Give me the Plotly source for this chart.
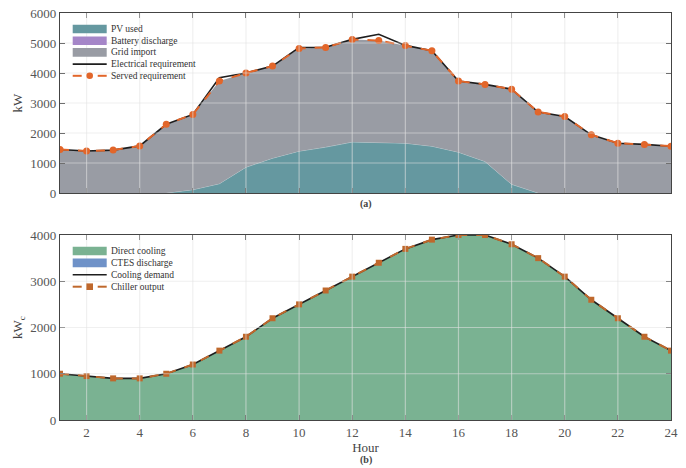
import plotly.graph_objects as go

hours = list(range(1, 25))

# Panel (a): electrical balance, kW
electrical_req = [1450, 1400, 1430, 1570, 2290, 2620, 3840, 4000, 4230, 4850,
                  4860, 5120, 5290, 4920, 4740, 3730, 3620, 3460, 2700, 2550,
                  1940, 1660, 1620, 1560]
served_req = [1450, 1400, 1430, 1570, 2290, 2620, 3730, 4000, 4230, 4820,
              4850, 5120, 5080, 4920, 4740, 3730, 3620, 3460, 2700, 2550,
              1940, 1660, 1620, 1560]
pv_used = [0, 0, 0, 0, 0, 110, 310, 860, 1160, 1395,
           1530, 1700, 1680, 1660, 1560, 1360, 1050, 290, 0, 0,
           0, 0, 0, 0]
battery_discharge = [0] * 24
grid_import = [s - p - b for s, p, b in zip(served_req, pv_used, battery_discharge)]

# Panel (b): cooling balance, kWc
cooling_demand = [1000, 950, 900, 900, 1000, 1200, 1500, 1800, 2200, 2500,
                  2800, 3100, 3400, 3700, 3900, 4000, 4000, 3800, 3500, 3100,
                  2600, 2200, 1800, 1500]
chiller_output = list(cooling_demand)
ctes_discharge = [0] * 24
direct_cooling = [c - d for c, d in zip(chiller_output, ctes_discharge)]

x_ticks = list(range(2, 25, 2))
y1_ticks = [0, 1000, 2000, 3000, 4000, 5000, 6000]
y2_ticks = [0, 1000, 2000, 3000, 4000]

FONT = "Liberation Serif"
ORANGE = "#e2662a"
BROWN = "#bf682c"
C_PV = "#6598a0"
C_BAT = "#a586c8"
C_GRID = "#999ca4"
C_DIRECT = "#7ab292"
C_CTES = "#6f92c8"
C_LINE = "#1e1e1e"

W, H = 686, 468
ML, MR, MT, MB = 60, 15, 13, 48
PW, PH = W - ML - MR, H - MT - MB


def px(xp):
    return (xp - ML) / PW


def py(yp):
    return (H - MB - yp) / PH


fig = go.Figure()

# --- top panel ---
fig.add_trace(go.Scatter(x=hours, y=pv_used, name="PV used", stackgroup="a",
                         mode="lines", line=dict(width=0.8, color="rgba(200,215,220,0.8)"),
                         fillcolor=C_PV, xaxis="x", yaxis="y"))
fig.add_trace(go.Scatter(x=hours, y=battery_discharge, name="Battery discharge", stackgroup="a",
                         mode="lines", line=dict(width=0), fillcolor=C_BAT,
                         xaxis="x", yaxis="y"))
fig.add_trace(go.Scatter(x=hours, y=grid_import, name="Grid import", stackgroup="a",
                         mode="lines", line=dict(width=0), fillcolor=C_GRID,
                         xaxis="x", yaxis="y"))
fig.add_trace(go.Scatter(x=hours, y=electrical_req, name="Electrical requirement",
                         mode="lines", line=dict(width=1.6, color=C_LINE),
                         xaxis="x", yaxis="y"))
fig.add_trace(go.Scatter(x=hours, y=served_req, name="Served requirement",
                         mode="lines+markers", line=dict(width=2, color=ORANGE, dash="dash"),
                         marker=dict(symbol="circle", size=7, color=ORANGE),
                         xaxis="x", yaxis="y"))

# --- bottom panel ---
fig.add_trace(go.Scatter(x=hours, y=direct_cooling, name="Direct cooling", stackgroup="b",
                         mode="lines", line=dict(width=0), fillcolor=C_DIRECT,
                         xaxis="x2", yaxis="y2"))
fig.add_trace(go.Scatter(x=hours, y=ctes_discharge, name="CTES discharge", stackgroup="b",
                         mode="lines", line=dict(width=0), fillcolor=C_CTES,
                         xaxis="x2", yaxis="y2"))
fig.add_trace(go.Scatter(x=hours, y=cooling_demand, name="Cooling demand",
                         mode="lines", line=dict(width=1.6, color=C_LINE),
                         xaxis="x2", yaxis="y2"))
fig.add_trace(go.Scatter(x=hours, y=chiller_output, name="Chiller output",
                         mode="lines+markers", line=dict(width=2, color=BROWN, dash="dash"),
                         marker=dict(symbol="square", size=6, color=BROWN),
                         xaxis="x2", yaxis="y2"))

axis_common = dict(
    showgrid=False, zeroline=False, showline=True, linecolor="#444", linewidth=1.2,
    mirror="allticks", ticks="inside", ticklen=5, tickcolor="#444", tickwidth=1,
    tickfont=dict(family=FONT, size=13, color="#555"), automargin=False,
)

# gridlines drawn above fills as shapes
shapes = []
annotations = []
grid_col = "rgba(228,228,228,0.55)"
for xa, ya, yt in (("x", "y", y1_ticks), ("x2", "y2", y2_ticks)):
    for xv in x_ticks[:-1]:
        shapes.append(dict(type="line", xref=xa, yref=f"{ya} domain", x0=xv, x1=xv, y0=0, y1=1,
                           line=dict(color=grid_col, width=1.2), layer="above"))
    for yv in yt[1:-1]:
        shapes.append(dict(type="line", xref=f"{xa} domain", yref=ya, x0=0, x1=1, y0=yv, y1=yv,
                           line=dict(color=grid_col, width=1.2), layer="above"))

# manual compact legends (paper coordinates)
SW0, SW1, TX = 72.7, 106.7, 109


def legend_block(entries, y0, step):
    for i, (label, kind, color, sym) in enumerate(entries):
        yc = y0 + i * step
        if kind == "fill":
            shapes.append(dict(type="rect", xref="paper", yref="paper",
                               x0=px(SW0), x1=px(SW1), y0=py(yc - 4.3), y1=py(yc + 4.3),
                               fillcolor=color, line=dict(width=0), layer="above"))
        elif kind == "line":
            shapes.append(dict(type="line", xref="paper", yref="paper",
                               x0=px(SW0), x1=px(SW1), y0=py(yc), y1=py(yc),
                               line=dict(color=color, width=1.6), layer="above"))
        else:
            for a, b in ((SW0, SW0 + 9), (SW1 - 9, SW1)):
                shapes.append(dict(type="line", xref="paper", yref="paper",
                                   x0=px(a), x1=px(b), y0=py(yc), y1=py(yc),
                                   line=dict(color=color, width=2), layer="above"))
            cx = (SW0 + SW1) / 2
            shapes.append(dict(type="circle" if sym == "circle" else "rect",
                               xref="paper", yref="paper",
                               x0=px(cx - 3.3), x1=px(cx + 3.3), y0=py(yc - 3.3), y1=py(yc + 3.3),
                               fillcolor=color, line=dict(width=0), layer="above"))
        annotations.append(dict(text=label, xref="paper", yref="paper", x=px(TX), y=py(yc),
                                xanchor="left", yanchor="middle", showarrow=False,
                                font=dict(family=FONT, size=9.5, color="#333")))


legend_block([
    ("PV used", "fill", C_PV, None),
    ("Battery discharge", "fill", C_BAT, None),
    ("Grid import", "fill", C_GRID, None),
    ("Electrical requirement", "line", C_LINE, None),
    ("Served requirement", "dash", ORANGE, "circle"),
], 29, 11.7)

legend_block([
    ("Direct cooling", "fill", C_DIRECT, None),
    ("CTES discharge", "fill", C_CTES, None),
    ("Cooling demand", "line", C_LINE, None),
    ("Chiller output", "dash", BROWN, "square"),
], 251, 11.9)

annotations += [
    dict(text="<b>(a)</b>", xref="paper", yref="paper", x=0.5, y=py(204),
         showarrow=False, font=dict(family=FONT, size=10, color="#444"), yanchor="middle"),
    dict(text="<b>(b)</b>", xref="paper", yref="paper", x=0.5, y=py(460),
         showarrow=False, font=dict(family=FONT, size=10, color="#444"), yanchor="middle"),
]

fig.update_layout(
    width=W, height=H,
    margin=dict(l=ML, r=MR, t=MT, b=MB),
    paper_bgcolor="white", plot_bgcolor="white",
    showlegend=False,
    xaxis=dict(domain=[0, 1], range=[1, 24], tickvals=x_ticks, showticklabels=False,
               anchor="y", **axis_common),
    yaxis=dict(domain=[py(193), 1], range=[0, 6000], tickvals=y1_ticks, anchor="x",
               title=dict(text="kW", font=dict(family=FONT, size=13, color="#444"), standoff=4),
               **axis_common),
    xaxis2=dict(domain=[0, 1], range=[1, 24], tickvals=x_ticks, anchor="y2",
                title=dict(text="Hour", font=dict(family=FONT, size=13, color="#444"), standoff=1),
                **axis_common),
    yaxis2=dict(domain=[0, py(235)], range=[0, 4000], tickvals=y2_ticks, anchor="x2",
                title=dict(text="kW<sub>c</sub>", font=dict(family=FONT, size=13, color="#444"), standoff=4),
                **axis_common),
    shapes=shapes,
    annotations=annotations,
)

fig.write_html("out.html", config={"displayModeBar": False},
               post_script="document.body.style.margin='0';document.body.style.overflow='hidden';")
